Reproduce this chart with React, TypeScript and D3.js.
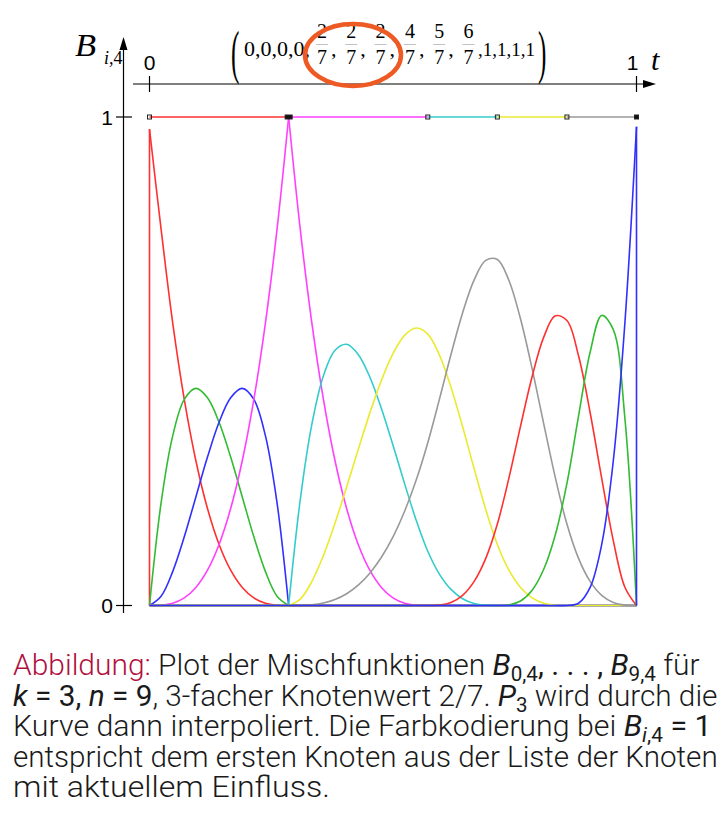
import React, { useEffect, useRef } from "react";
import * as d3 from "d3";

// knot vector (numerators over 7) as printed above the plot
const knotNumerators = [0, 0, 0, 0, 2, 2, 2, 4, 5, 6, 7, 7, 7, 7];
const knotDenominator = 7;
const knots = knotNumerators.map((n) => n / knotDenominator);

// sample spacing of the curves: 1/42 in t
const steps = 42;

// B_{i,4}, one value per 1/42 step over the support [knots[i], knots[i+4]]
const b0 = [0.975, 0.7703, 0.5787, 0.4219, 0.2963, 0.1985, 0.125, 0.0723, 0.037, 0.0156, 0.0046, 0.0006, 0];
const b1 = [0, 0.2101, 0.3472, 0.4219, 0.4444, 0.4253, 0.375, 0.3038, 0.2222, 0.1406, 0.0694, 0.0191, 0];
const b2 = [0, 0.0191, 0.0694, 0.1406, 0.2222, 0.3038, 0.375, 0.4253, 0.4444, 0.4219, 0.3472, 0.2101, 0];
const b3 = [
  0, 0.0006, 0.0046, 0.0156, 0.037, 0.0723, 0.125, 0.1985, 0.2963, 0.4219, 0.5787, 0.7703, 1,
  0.7703, 0.5787, 0.4219, 0.2963, 0.1985, 0.125, 0.0723, 0.037, 0.0156, 0.0046, 0.0006, 0,
];
const b4 = [
  0, 0.2165, 0.3709, 0.4705, 0.5226, 0.5347, 0.5139, 0.4677, 0.4033, 0.3281, 0.2495, 0.1747, 0.1111,
  0.0643, 0.0329, 0.0139, 0.0041, 0.0005, 0,
];
const b5 = [
  0, 0.0131, 0.0489, 0.1024, 0.1687, 0.2427, 0.3194, 0.3938, 0.4609, 0.5156, 0.553, 0.568, 0.5556,
  0.5131, 0.447, 0.3663, 0.2798, 0.1964, 0.125, 0.0723, 0.037, 0.0156, 0.0046, 0.0006, 0,
];
const b6 = [
  0, 0.0002, 0.0015, 0.0052, 0.0123, 0.0241, 0.0417, 0.0662, 0.0988, 0.1406, 0.1929, 0.2567, 0.3333,
  0.4219, 0.5139, 0.599, 0.6667, 0.7066, 0.7083, 0.6653, 0.5864, 0.4844, 0.3719, 0.2618, 0.1667,
  0.0965, 0.0494, 0.0208, 0.0062, 0.0008, 0,
];
const b7 = [
  0, 0.0008, 0.0062, 0.0208, 0.0494, 0.0965, 0.1667, 0.2612, 0.3673, 0.4688, 0.5494, 0.593, 0.5833,
  0.5112, 0.3951, 0.2604, 0.1327, 0.0374, 0,
];
const b8 = [0, 0.0012, 0.0093, 0.0313, 0.0741, 0.1447, 0.25, 0.3877, 0.5185, 0.5938, 0.5648, 0.3831, 0];
const b9 = [0, 0.0046, 0.037, 0.125, 0.2963, 0.5787, 0.98];

const basisValues = [b0, b1, b2, b3, b4, b5, b6, b7, b8, b9];
const basisColors = [
  "#ff3030", "#33bb33", "#3030ff", "#ff40ff", "#33cccc",
  "#eaea30", "#999999", "#ff3030", "#33bb33", "#3030ff",
];

const yTicks = [0, 1];
const tTicks = [0, 1];

type Seg = { t: string; i?: boolean; m?: boolean; sub?: boolean; accent?: boolean };
const captionLines: Seg[][] = [
  [
    { t: "Abbildung:", accent: true },
    { t: " Plot der Mischfunktionen " },
    { t: "B", i: true, m: true },
    { t: "0,4", sub: true, m: true },
    { t: ", . . . , ", m: true },
    { t: "B", i: true, m: true },
    { t: "9,4", sub: true, m: true },
    { t: " für" },
  ],
  [
    { t: "k", i: true, m: true },
    { t: " = 3, ", m: true },
    { t: "n", i: true, m: true },
    { t: " = 9", m: true },
    { t: ", 3-facher Knotenwert 2/7. " },
    { t: "P", i: true, m: true },
    { t: "3", sub: true, m: true },
    { t: " wird durch die" },
  ],
  [
    { t: "Kurve dann interpoliert. Die Farbkodierung bei " },
    { t: "B", i: true, m: true },
    { t: "i", sub: true, i: true, m: true },
    { t: ",4", sub: true, m: true },
    { t: " = 1", m: true },
  ],
  [{ t: "entspricht dem ersten Knoten aus der Liste der Knoten" }],
  [{ t: "mit aktuellem Einfluss." }],
];
const captionWidths = [687, 705, 699, 705, 317];

const W = 726;
const H = 822;

const App: React.FC = () => {
  const svgRef = useRef<SVGSVGElement | null>(null);

  useEffect(() => {
    if (!svgRef.current) return;
    const svg = d3.select(svgRef.current);
    svg.selectAll("*").remove();

    const x = d3.scaleLinear().domain([0, 1]).range([149.5, 636.5]);
    const y = d3.scaleLinear().domain([0, 1]).range([605.5, 117]);

    const smooth = d3
      .line<[number, number]>()
      .x((d) => x(d[0]))
      .y((d) => y(d[1]))
      .curve(d3.curveCatmullRom.alpha(0.5));
    const straight = d3
      .line<[number, number]>()
      .x((d) => x(d[0]))
      .y((d) => y(d[1]));

    const sans = "'Liberation Sans', Arial, sans-serif";
    const serif = "'Liberation Serif', 'Times New Roman', serif";

    // distinct knots and their multiplicity
    const distinct = Array.from(d3.rollup(knots, (v) => v.length, (k) => k)).sort((a, b) => a[0] - b[0]);
    // curves are only C0 where a knot is repeated 3 times: split the smooth path there
    const breaks = distinct
      .filter(([k, m]) => m >= 3 && k > 0 && k < 1)
      .map(([k]) => Math.round(k * steps));

    // ---- y axis
    const axisX = 123.5;
    svg.append("line")
      .attr("x1", axisX).attr("x2", axisX)
      .attr("y1", 613).attr("y2", 48)
      .attr("stroke", "#000").attr("stroke-width", 1.2);
    svg.append("path")
      .attr("d", `M${axisX - 4},50L${axisX},37L${axisX + 4},50Z`)
      .attr("fill", "#000");
    yTicks.forEach((v) => {
      svg.append("line")
        .attr("x1", 116).attr("x2", 132)
        .attr("y1", y(v)).attr("y2", y(v))
        .attr("stroke", "#000").attr("stroke-width", 1.2);
      svg.append("text")
        .attr("x", 113).attr("y", y(v) + 7.5)
        .attr("text-anchor", "end")
        .attr("font-family", sans).attr("font-size", 21)
        .text(String(v));
    });

    svg.append("text")
      .attr("transform", "translate(75,56) scale(1.08,1)")
      .attr("font-family", serif).attr("font-size", 32).attr("font-style", "italic")
      .text("B");
    const sub = svg.append("text")
      .attr("x", 104).attr("y", 64)
      .attr("font-family", serif).attr("font-size", 18);
    sub.append("tspan").attr("font-style", "italic").text("i");
    sub.append("tspan").text(",4");

    // ---- t axis on top
    const topY = 84;
    svg.append("line")
      .attr("x1", 133).attr("x2", 646)
      .attr("y1", topY).attr("y2", topY)
      .attr("stroke", "#000").attr("stroke-width", 1.2);
    svg.append("path")
      .attr("d", `M643,${topY - 4}L656,${topY}L643,${topY + 4}Z`)
      .attr("fill", "#000");
    tTicks.forEach((v) => {
      svg.append("line")
        .attr("x1", x(v)).attr("x2", x(v))
        .attr("y1", topY - 8).attr("y2", topY + 8)
        .attr("stroke", "#000").attr("stroke-width", 1.2);
      svg.append("text")
        .attr("x", x(v) - (v === 1 ? 4 : 0)).attr("y", 70)
        .attr("text-anchor", "middle")
        .attr("font-family", sans).attr("font-size", 21)
        .text(String(v));
    });
    svg.append("text")
      .attr("x", 651).attr("y", 70)
      .attr("font-family", serif).attr("font-size", 30).attr("font-style", "italic")
      .text("t");

    // ---- knot vector header
    const zeros = knotNumerators.filter((n) => n === 0).length;
    const ones = knotNumerators.filter((n) => n === knotDenominator).length;
    const inner = knotNumerators.filter((n) => n > 0 && n < knotDenominator);

    svg.append("text")
      .attr("transform", "translate(231,72) scale(0.45,1.05)")
      .attr("font-family", serif).attr("font-size", 56)
      .text("(");
    svg.append("text")
      .attr("x", 244).attr("y", 56)
      .attr("font-family", serif).attr("font-size", 22)
      .text(d3.range(zeros).map(() => "0").join(",") + ",");
    inner.forEach((n, j) => {
      const cx = 322 + j * 29.3;
      svg.append("text")
        .attr("x", cx).attr("y", 38)
        .attr("text-anchor", "middle")
        .attr("font-family", serif).attr("font-size", 20)
        .text(String(n));
      svg.append("line")
        .attr("x1", cx - 6).attr("x2", cx + 6)
        .attr("y1", 44.5).attr("y2", 44.5)
        .attr("stroke", "#999").attr("stroke-width", 0.6);
      svg.append("text")
        .attr("x", cx).attr("y", 64)
        .attr("text-anchor", "middle")
        .attr("font-family", serif).attr("font-size", 20)
        .text(String(knotDenominator));
      if (j < inner.length - 1) {
        svg.append("text")
          .attr("x", cx + 9).attr("y", 56)
          .attr("font-family", serif).attr("font-size", 22)
          .text(",");
      }
    });
    svg.append("text")
      .attr("x", 478).attr("y", 56)
      .attr("font-family", serif).attr("font-size", 19)
      .text("," + d3.range(ones).map(() => "1").join(","));
    svg.append("text")
      .attr("transform", "translate(538,72) scale(0.45,1.05)")
      .attr("font-family", serif).attr("font-size", 56)
      .text(")");
    svg.append("ellipse")
      .attr("cx", 353).attr("cy", 55)
      .attr("rx", 48).attr("ry", 31)
      .attr("fill", "none")
      .attr("stroke", "#ee5a24").attr("stroke-width", 4.5);

    // ---- basis functions
    const grid = d3.range(steps + 1);
    basisValues.forEach((vals, i) => {
      const start = Math.round(knots[i] * steps);
      const pts: [number, number][] = grid.map((k) => [
        k / steps,
        k >= start && k < start + vals.length ? vals[k - start] : 0,
      ]);
      const cuts = [0, ...breaks, steps];
      for (let c = 0; c < cuts.length - 1; c++) {
        svg.append("path")
          .attr("d", smooth(pts.slice(cuts[c], cuts[c + 1] + 1)))
          .attr("fill", "none")
          .attr("stroke", basisColors[i])
          .attr("stroke-width", 1.6);
      }
      if (pts[0][1] > 0) {
        svg.append("path")
          .attr("d", straight([[0, 0], pts[0]]))
          .attr("fill", "none").attr("stroke", basisColors[i]).attr("stroke-width", 1.6);
      }
      if (pts[steps][1] > 0) {
        svg.append("path")
          .attr("d", straight([pts[steps], [1, 0]]))
          .attr("fill", "none").attr("stroke", basisColors[i]).attr("stroke-width", 1.6);
      }
    });

    // ---- colour bar at B = 1: first basis function active on each knot span
    for (let j = 0; j < knots.length - 1; j++) {
      if (knots[j + 1] > knots[j]) {
        svg.append("line")
          .attr("x1", x(knots[j])).attr("x2", x(knots[j + 1]))
          .attr("y1", y(1)).attr("y2", y(1))
          .attr("stroke", basisColors[j - 3]).attr("stroke-width", 1.3);
      }
    }
    distinct.forEach(([k, m]) => {
      const filled = m === 3 || k === 1;
      const w = m === 3 ? 7 : 4;
      svg.append("rect")
        .attr("x", x(k) - w / 2).attr("y", y(1) - 2)
        .attr("width", w).attr("height", 4)
        .attr("fill", filled ? "#111" : "none")
        .attr("stroke", "#222").attr("stroke-width", 1);
    });

    // ---- caption
    captionLines.forEach((segs, li) => {
      const text = svg.append("text")
        .attr("font-family", "Roboto, 'Noto Sans', sans-serif")
        .attr("font-size", 29)
        .attr("font-weight", 300)
        .attr("fill", "#1a1a1a")
        .style("white-space", "pre");
      let shifted = false;
      segs.forEach((s) => {
        const ts = text.append("tspan").text(s.t);
        if (s.i) ts.attr("font-style", "italic");
        if (s.m) ts.attr("font-weight", 400);
        if (s.accent) ts.attr("fill", "#b0103e");
        if (s.sub) {
          ts.attr("font-size", 20);
          if (!shifted) {
            ts.attr("dy", 6);
            shifted = true;
          }
        } else if (shifted) {
          ts.attr("dy", -6);
          shifted = false;
        }
      });
      const node = text.node() as SVGTextElement;
      const w = node.getBBox().width || captionWidths[li];
      text.attr(
        "transform",
        `translate(13,${675 + li * 30.5}) scale(${captionWidths[li] / w},1.04)`
      );
    });
  }, []);

  return (
    <svg
      ref={svgRef}
      width={W}
      height={H}
      style={{ position: "absolute", left: 0, top: 0, background: "#fff" }}
    ></svg>
  );
};

export default App;
